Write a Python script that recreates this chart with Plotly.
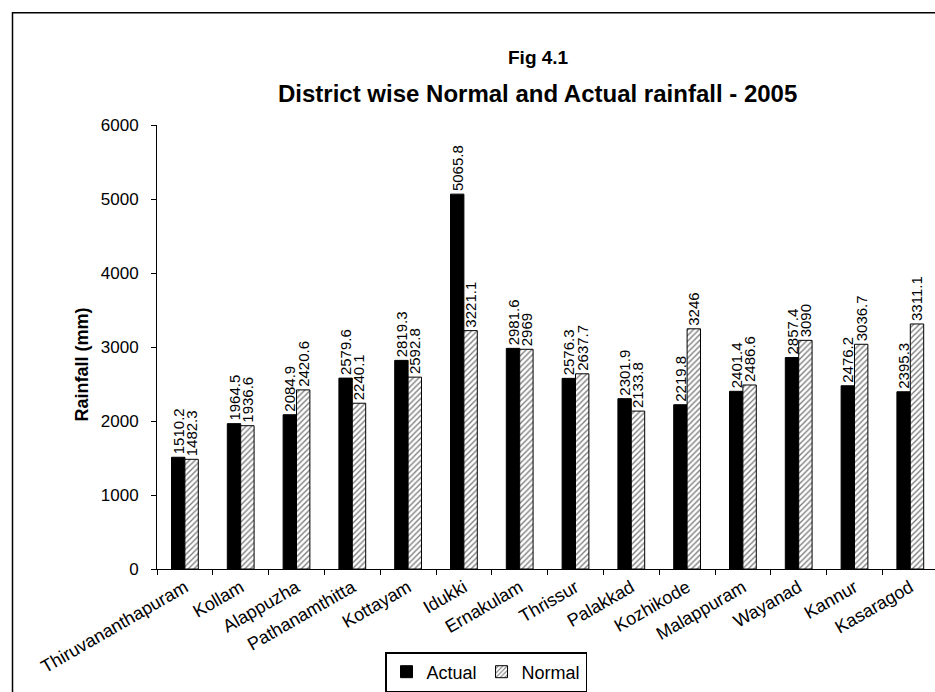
import plotly.graph_objects as go

# District-wise rainfall, 2005 (mm)
districts = [
    "Thiruvananthapuram", "Kollam", "Alappuzha", "Pathanamthitta", "Kottayam",
    "Idukki", "Ernakulam", "Thrissur", "Palakkad", "Kozhikode",
    "Malappuram", "Wayanad", "Kannur", "Kasaragod",
]
actual = [1510.2, 1964.5, 2084.9, 2579.6, 2819.3, 5065.8, 2981.6,
          2576.3, 2301.9, 2219.8, 2401.4, 2857.4, 2476.2, 2395.3]
normal = [1482.3, 1936.6, 2420.6, 2240.1, 2592.8, 3221.1, 2969,
          2637.7, 2133.8, 3246, 2486.6, 3090, 3036.7, 3311.1]
y_ticks = [0, 1000, 2000, 3000, 4000, 5000, 6000]

FONT = "Arial, 'Liberation Sans', sans-serif"

# pixel layout of the plotting area
W, H = 935, 692
L, R, T, B = 157, 0, 125, 122
plot_w = W - L - R
plot_h = H - T - B
cat_px = 55.8  # width of one category slot


def px_x(x):
    return (x - L) / plot_w


def px_y(y):
    return (H - B - y) / plot_h


fig = go.Figure()
fig.add_trace(go.Bar(
    name="Actual", x=districts, y=actual,
    text=[f"{v:g}" for v in actual],
    marker=dict(color="black", line=dict(color="black", width=1)),
))
fig.add_trace(go.Bar(
    name="Normal", x=districts, y=normal,
    text=[f"{v:g}" for v in normal],
    marker=dict(
        color="white",
        line=dict(color="black", width=1),
        pattern=dict(shape="/", fgcolor="black", bgcolor="white",
                     size=4, solidity=0.35),
    ),
))
fig.update_traces(
    textposition="outside", textangle=-90, cliponaxis=False,
    constraintext="none",
    textfont=dict(family=FONT, size=15, color="black"),
)


def label(text, x, y, size, angle=0):
    return dict(text=text, xref="paper", yref="paper",
                x=px_x(x), y=px_y(y), xanchor="center", yanchor="middle",
                textangle=angle, showarrow=False,
                font=dict(family=FONT, size=size, color="black"))


fig.update_layout(
    width=W, height=H,
    margin=dict(l=L, r=R, t=T, b=B, pad=0),
    paper_bgcolor="white", plot_bgcolor="white",
    barmode="group", bargap=0.52, bargroupgap=0,
    font=dict(family=FONT, color="black"),
    showlegend=True,
    legend=dict(
        orientation="h", x=px_x(385), y=px_y(653),
        xanchor="left", yanchor="top",
        bordercolor="black", borderwidth=1.5, bgcolor="white",
        font=dict(family=FONT, size=18, color="black"),
        itemwidth=30, tracegroupgap=0,
    ),
    xaxis=dict(
        type="category", range=[-0.5, -0.5 + plot_w / cat_px],
        showline=True, linecolor="black", linewidth=1,
        ticks="outside", ticklen=5, tickcolor="black", tickson="boundaries",
        tickangle=-30, tickfont=dict(family=FONT, size=18, color="black"),
        showgrid=False, zeroline=False,
    ),
    yaxis=dict(
        range=[0, 6000], tickvals=y_ticks,
        showline=True, linecolor="black", linewidth=1,
        ticks="outside", ticklen=5, tickcolor="black",
        ticklabelstandoff=9,
        tickfont=dict(family=FONT, size=17, color="black"),
        showgrid=False, zeroline=False,
    ),
    annotations=[
        label("<b>Fig 4.1</b>", 538, 57, 19),
        label("<b>District wise Normal and Actual rainfall - 2005</b>",
              537, 93, 24),
        label("<b>Rainfall (mm)</b>", 82, 365, 18, angle=-90),
    ],
    shapes=[
        # chart frame (runs off the right and bottom edges)
        dict(type="rect", xref="paper", yref="paper",
             x0=px_x(12.5), x1=px_x(W + 20), y0=px_y(H + 20), y1=px_y(12.5),
             line=dict(color="black", width=1.5), fillcolor="rgba(0,0,0,0)",
             layer="below"),
    ],
)

fig.write_html("out.html")
